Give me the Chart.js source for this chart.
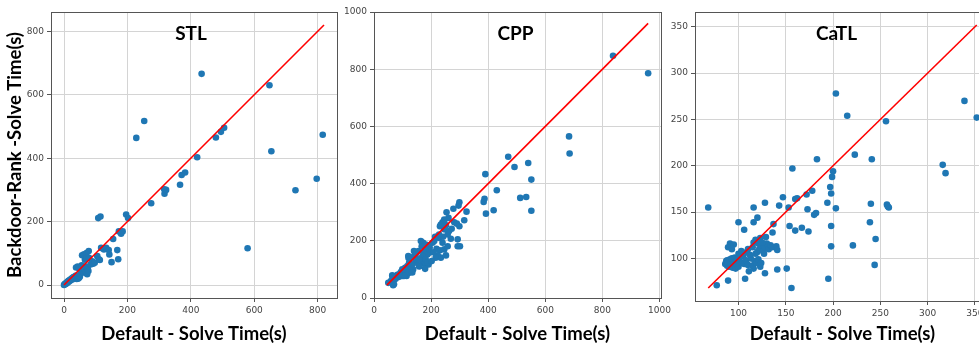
<!DOCTYPE html>
<html>
<head>
<meta charset="UTF-8">
<title>Default vs Backdoor-Rank solve time</title>
<script src="https://cdn.jsdelivr.net/npm/chart.js"></script>
<style>
  html, body { margin: 0; padding: 0; background: #fff; overflow: hidden; }
  body { width: 979px; height: 343px; position: relative; }
  canvas { position: absolute; top: 0; }
</style>
</head>
<body>
<canvas id="stl" width="345" height="343" style="left:0"></canvas>
<canvas id="cpp" width="335" height="343" style="left:340px"></canvas>
<canvas id="catl" width="340" height="343" style="left:665px"></canvas>

<script>
// STL
const stlX = [0,2,4,6,8,10,12,14,16,18,20,22,24,26,28,30,32,34,36,38,40,42,44,47,50,38,43,47,52,56,60,62,64,66,68,70,73,75,77,57,63,71,78,66,72,79,84,89,92,97,105,110,113,117,126,133,141,143,150,155,168,171,173,180,185,108,115,196,202,228,253,275,316,317,322,366,371,382,420,434,479,495,505,579,648,654,730,797,816];
const stlY = [0,3,2,6,5,9,8,13,11,16,14,19,17,22,18,25,21,27,23,30,19,24,20,22,26,55,58,53,35,62,45,40,52,48,39,58,34,51,44,94,97,101,107,80,85,86,65,75,67,70,91,81,79,117,112,117,110,96,72,145,110,81,169,162,169,211,216,222,211,464,517,258,302,288,300,316,347,355,403,666,465,483,496,116,630,422,299,335,474];
const stlDiag = [0, 820];
const stlTicks = [0, 200, 400, 600, 800];

// CPP
const cppX = [837,960,683,685,470,492,540,551,390,430,387,384,392,419,512,533,551,
  293,293,301,269,272,281,290,299,316,324,299,296,278,254,261,246,240,231,246,258,
  223,214,228,242,240,219,231,234,223,246,252,258,
  172,182,191,193,176,168,182,191,179,170,160,
  146,156,141,149,137,123,129,114,121,123,109,
  94,88,82,70,64,59,50,67,76,100,
  205,211,187,195,164,170,175,181,167,181,175,170,181,187,158,140,146,129,146,120,158,134,117,123,134,111,105,99,88,64,70,
  246,263,252,234,216,202,228,208];
const cppY = [847,786,565,505,494,458,472,414,433,377,347,336,295,307,350,353,305,
  205,181,181,207,242,265,260,251,272,302,335,323,312,300,280,274,265,251,240,222,
  216,214,210,214,193,172,167,141,149,170,149,181,
  193,176,184,158,158,141,117,117,102,123,112,
  160,164,147,123,100,88,112,77,140,123,106,
  91,74,81,65,79,59,53,45,67,77,
  193,199,152,176,199,193,181,187,181,170,158,147,135,124,110,164,152,141,135,147,135,118,112,100,89,89,77,100,83,77,48,
  263,234,254,257,141,129,222,160];
const cppDiag = [45, 960];
const cppTicks = [0, 200, 400, 600, 800, 1000];

// CaTL
const catlX = [68,77,89,107,111,116,123,128,141,151,156,195,244,
  86,87,88,88,89,90,91,92,93,94,95,96,97,98,99,100,101,103,105,106,108,110,113,115,117,119,121,124,
  91,95,89,93,100,103,107,110,112,115,118,120,122,124,126,128,130,132,134,136,121,123,129,140,141,116,118,125,127,
  106,100,116,120,116,128,137,136,143,147,153,154,160,157,160,162,167,172,173,174,178,180,182,183,194,197,198,198,198,199,200,203,203,215,221,223,239,240,241,245,256,257,258,259,316,319,339,352];
const catlY = [155,71,76,78,86,89,91,84,88,89,68,78,93,
  94,97,92,98,95,91,99,93,100,90,96,101,89,97,93,91,99,95,102,94,98,93,100,92,97,95,99,95,
  116,115,112,110,105,108,106,110,104,112,105,107,110,114,108,112,116,110,114,112,116,122,123,113,109,117,120,117,105,
  131,139,139,144,155,160,137,128,157,166,155,135,130,197,164,165,133,169,153,129,173,147,149,207,160,177,170,135,113,188,194,154,278,254,114,212,139,159,207,121,248,158,156,155,201,192,270,252];
const catlDiag = [68, 352];
const catlTicks = [100, 150, 200, 250, 300, 350];

// axis limits
const stlRange = [-41, 861];
const cppXRange = [0, 1005], cppYRange = [0, 1000];
const catlRange = [54, 366];

const tickFont = { family: 'DejaVu Sans', size: 9 };
const labelFont = { family: 'Lato', size: 18.5, weight: 'bold', lineHeight: 1 };

const framePlugin = {
  id: 'frame',
  afterDraw(chart, args, opts) {
    const { ctx, chartArea: a } = chart;
    ctx.save();
    ctx.strokeStyle = '#555';
    ctx.lineWidth = 1;
    ctx.strokeRect(a.left + 0.5, a.top + 0.5, a.right - a.left, a.bottom - a.top);
    ctx.font = 'bold 19px Lato';
    ctx.fillStyle = '#000';
    ctx.textAlign = 'center';
    ctx.textBaseline = 'middle';
    ctx.fillText(opts.label, (a.left + a.right) / 2 + (opts.shift || 0), a.top + 22);
    ctx.restore();
  }
};

function pts(xs, ys) { return xs.map((x, i) => ({ x: x, y: ys[i] })); }

function axis(range, tickVals, size, title, isY) {
  return {
    type: 'linear',
    min: range[0],
    max: range[1],
    afterBuildTicks: s => { s.ticks = tickVals.map(v => ({ value: v })); },
    afterFit: s => { if (isY) s.width = size; else s.height = size; },
    ticks: { font: tickFont, color: '#444', padding: 3, callback: v => String(v) },
    grid: { color: '#d4d4d4', lineWidth: 1, tickColor: '#555', tickLength: 4, drawTicks: true },
    border: { display: true, color: '#555' },
    title: title ? { display: true, text: title, font: labelFont, color: '#000',
                     padding: isY ? { top: 6, bottom: 0 } : { top: 0, bottom: 0 } } : { display: false }
  };
}

function makeChart(id, xs, ys, diag, xr, yr, xt, yt, yw, xh, pad, label, shift, ytitle) {
  new Chart(document.getElementById(id), {
    type: 'scatter',
    data: {
      datasets: [
        { data: pts(diag, diag), showLine: true, borderColor: 'red', borderWidth: 1.6,
          pointRadius: 0, fill: false },
        { data: pts(xs, ys), backgroundColor: '#1f77b4', borderWidth: 0, pointRadius: 3.3 }
      ]
    },
    options: {
      responsive: false,
      animation: false,
      layout: { padding: pad },
      plugins: { legend: { display: false }, tooltip: { enabled: false }, frame: { label: label, shift: shift } },
      scales: {
        x: axis(xr, xt, xh, 'Default - Solve Time(s)', false),
        y: axis(yr, yt, yw, ytitle, true)
      }
    },
    plugins: [framePlugin]
  });
}

makeChart('stl', stlX, stlY, stlDiag, stlRange, stlRange, stlTicks, stlTicks, 51, 45,
  { top: 12, right: 8, left: 0, bottom: 0 }, 'STL', -3, 'Backdoor-Rank -Solve Time(s)');
makeChart('cpp', cppX, cppY, cppDiag, cppXRange, cppYRange, cppTicks, cppTicks, 34, 45,
  { top: 12, right: 14, left: 0, bottom: 0 }, 'CPP', -2, null);
makeChart('catl', catlX, catlY, catlDiag, catlRange, catlRange, catlTicks, catlTicks, 30, 42,
  { top: 12, right: 15, left: 0, bottom: 0 }, 'CaTL', -6, null);
</script>
</body>
</html>
